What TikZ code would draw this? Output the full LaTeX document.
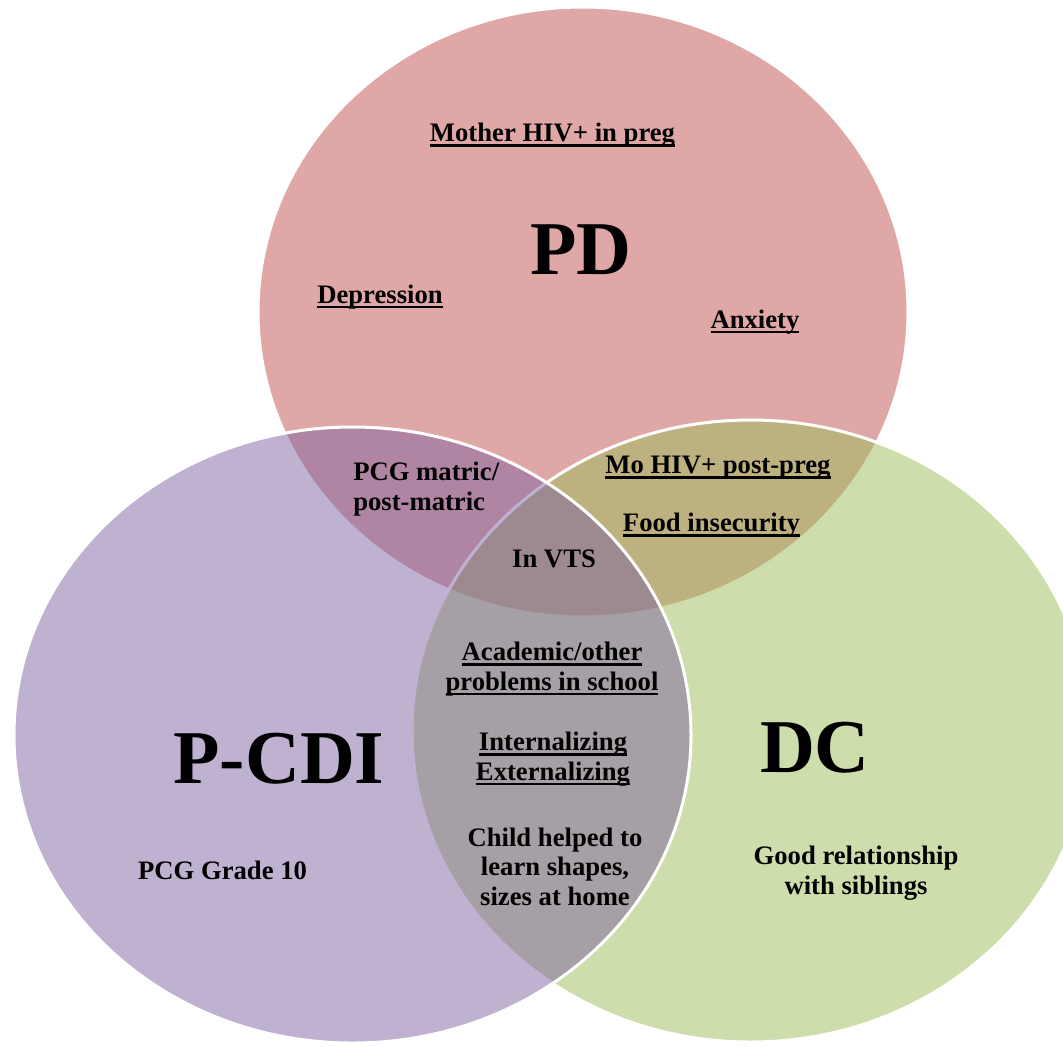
\documentclass[tikz,border=0pt]{standalone}
\usepackage{fontspec}
\setmainfont{Liberation Serif}
\newsavebox\ulbox
\newcommand\ulin[1]{\sbox\ulbox{#1}\rlap{\rule[-4pt]{\wd\ulbox}{2pt}}\usebox\ulbox}
\definecolor{pdcol}{HTML}{C0504D}
\definecolor{dccol}{HTML}{9BBB59}
\definecolor{pccol}{HTML}{8064A2}
\begin{document}
\begin{tikzpicture}[x=0.75pt,y=-0.75pt,
  venn/.style={draw=white, line width=2.25pt, fill opacity=0.5},
  lbl/.style={font=\bfseries\fontsize{20}{22}\selectfont, inner sep=0pt, align=center, anchor=base},
  big/.style={font=\bfseries\fontsize{57}{60}\selectfont, inner sep=0pt, anchor=base}]
\useasboundingbox (0,0) rectangle (1063,1046);
\clip (0,0) rectangle (1063,1046);
\path[venn, fill=pdcol] (583,312) ellipse [x radius=325, y radius=305];
\path[venn, fill=dccol] (750.5,731) ellipse [x radius=338.5, y radius=311];
\path[venn, fill=pccol] (352.5,735) ellipse [x radius=338.5, y radius=308];
\node[lbl] (mother) at (552.5,141.7) {\ulin{Mother HIV+ in preg}};
\node[big] (pd) at (581,274) {PD};
\node[lbl] (dep) at (380,303) {\ulin{Depression}};
\node[lbl] (anx) at (755,328) {\ulin{Anxiety}};
\node[lbl, anchor=base west, align=left] (matric) at (353,510) {PCG matric/\\post-matric};
\node[lbl] (mohiv) at (718,473.3) {\ulin{Mo HIV+ post-preg}};
\node[lbl] (food) at (711.5,531.7) {\ulin{Food insecurity}};
\node[lbl] (vts) at (554,567.7) {In VTS};
\node[lbl] (acad) at (552,690) {\ulin{Academic/other}\\\ulin{problems in school}};
\node[lbl] (intext) at (553,780) {\ulin{Internalizing}\\\ulin{Externalizing}};
\node[lbl] (child) at (555,905) {Child helped to\\learn shapes,\\sizes at home};
\node[big] (pcdi) at (279,783) {P-CDI};
\node[lbl] (grade) at (222.5,879.3) {PCG Grade 10};
\node[big] (dc) at (815,772) {DC};
\node[lbl] (sib) at (856,894) {Good relationship\\with siblings};
\end{tikzpicture}
\end{document}
